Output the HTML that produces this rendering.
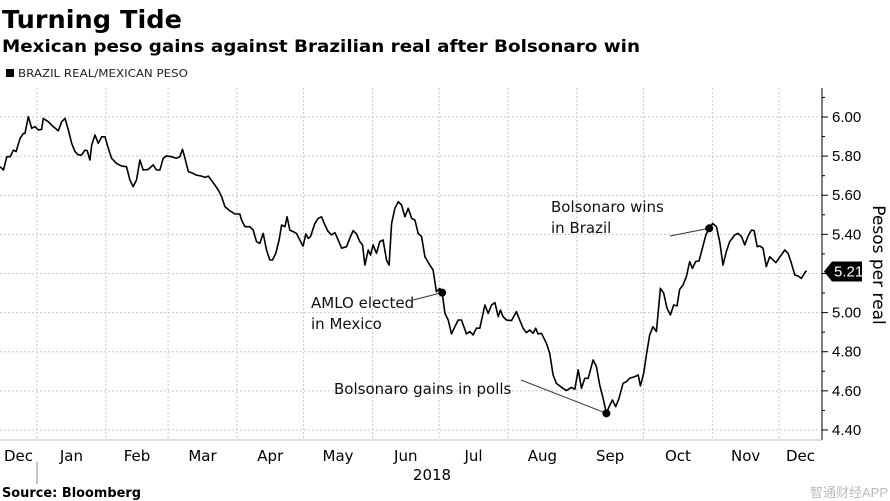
<!DOCTYPE html>
<html><head><meta charset="utf-8">
<style>
body{margin:0;background:#fff;}
svg{display:block;font-family:"Liberation Sans","Noto Sans CJK SC",sans-serif;}
.dj{font-family:"DejaVu Sans","Liberation Sans",sans-serif;}
</style></head>
<body>
<svg id="chart" width="890" height="501" viewBox="0 0 890 501">
<text class="dj" x="2" y="28" font-size="25" font-weight="bold" fill="#000" textLength="180" lengthAdjust="spacingAndGlyphs">Turning Tide</text>
<text class="dj" x="2" y="52" font-size="17" font-weight="bold" fill="#000" textLength="638" lengthAdjust="spacingAndGlyphs">Mexican peso gains against Brazilian real after Bolsonaro win</text>
<rect x="6" y="69" width="8" height="8" fill="#000"/>
<text class="dj" x="18" y="77" font-size="11" fill="#222" textLength="170" lengthAdjust="spacingAndGlyphs">BRAZIL REAL/MEXICAN PESO</text>
<g id="grid"></g>
<g id="axes"></g>
<path id="line" fill="none" stroke="#000" stroke-width="1.6" stroke-linejoin="round"/>
<g id="annots"></g>
<text class="dj" transform="translate(873,265) rotate(90)" text-anchor="middle" font-size="17" fill="#000">Pesos per real</text>
<text class="dj" x="432" y="480" text-anchor="middle" font-size="15" fill="#000">2018</text>
<line x1="37" y1="462" x2="37" y2="484" stroke="#888" stroke-width="1"/>
<text class="dj" x="2" y="497" font-size="13" font-weight="bold" fill="#000" textLength="139" lengthAdjust="spacingAndGlyphs">Source: Bloomberg</text>
<text x="888" y="497" text-anchor="end" font-size="13" fill="#bbb">智通财经APP</text>
</svg>
<script>
// day offsets from 2018-01-01
const days=[-16.6,-15.1,-13.6,-12.1,-10.6,-9.4,-7.6,-6.1,-5.4,-3.9,-2.4,-0.9,0.6,2.1,2.8,5.1,7.3,9.6,11.1,12.6,14.1,15.6,17.1,18.6,20.1,21.6,22.6,23.8,24.6,26.1,27.6,29.1,30.6,32.1,33.6,35.8,38.1,40.3,41.8,43.3,44.8,46.3,47.8,50.1,52.3,53.8,55.3,56.8,58.3,60.6,62.8,64.3,65.5,66.6,68.1,69.6,71.8,74.1,75.6,77.1,79.3,81.6,83.1,84.6,86.8,89.1,91.3,92.1,93.6,95.8,97.3,98.8,100.3,101.8,103.3,104.8,106.0,107.5,109.0,110.1,111.6,112.6,113.8,115.3,116.8,118.3,119.8,121.0,122.1,123.1,125.1,126.6,128.1,129.6,131.1,132.6,134.1,135.6,137.1,139.3,140.8,142.3,143.8,145.3,146.5,147.6,149.1,150.1,151.3,152.8,154.3,155.8,157.3,158.5,159.6,161.1,162.6,164.1,165.6,167.1,168.6,170.1,171.6,173.1,174.6,176.8,178.3,179.8,181.3,182.4,183.6,185.1,186.6,188.1,189.6,191.1,193.3,194.8,196.3,197.8,199.3,201.6,203.1,204.6,206.1,207.6,208.6,209.8,211.3,213.6,215.8,217.3,218.8,220.3,221.8,223.3,224.5,225.5,227.1,229.3,230.8,232.3,233.8,236.1,238.3,240.6,242.1,243.6,245.1,246.6,248.1,250.3,251.8,253.3,254.8,256.3,257.5,259.0,260.5,262.0,263.8,265.3,266.8,269.1,270.6,271.6,273.1,274.3,275.8,277.3,278.8,280.6,282.1,283.6,285.1,286.6,288.1,289.3,290.8,292.3,293.8,295.0,296.5,298.0,299.5,301.1,302.6,304.1,305.8,307.3,308.8,310.3,311.8,314.1,315.6,317.1,318.6,320.1,321.6,322.8,324.2,325.3,326.8,328.3,329.8,332.6,334.3,336.6,338.1,339.6,341.1,342.6,344.1,345.6,346.4];
const rates=[5.746,5.729,5.797,5.797,5.831,5.823,5.891,5.916,5.916,6.002,5.942,5.951,5.934,5.937,5.993,5.976,5.951,5.930,5.976,5.993,5.934,5.865,5.823,5.806,5.806,5.831,5.828,5.780,5.857,5.908,5.865,5.899,5.899,5.840,5.789,5.763,5.749,5.746,5.678,5.644,5.678,5.780,5.729,5.732,5.755,5.729,5.729,5.789,5.801,5.797,5.789,5.797,5.835,5.789,5.721,5.715,5.703,5.698,5.691,5.698,5.664,5.627,5.593,5.542,5.521,5.504,5.504,5.473,5.439,5.439,5.422,5.363,5.354,5.405,5.320,5.269,5.269,5.303,5.371,5.448,5.439,5.490,5.422,5.414,5.405,5.371,5.340,5.402,5.380,5.388,5.456,5.482,5.490,5.448,5.414,5.397,5.409,5.371,5.329,5.337,5.380,5.419,5.402,5.363,5.346,5.243,5.320,5.294,5.346,5.303,5.363,5.371,5.269,5.243,5.456,5.533,5.567,5.550,5.490,5.533,5.482,5.473,5.405,5.388,5.286,5.243,5.218,5.107,5.124,5.102,4.996,4.962,4.891,4.928,4.962,4.962,4.891,4.903,4.886,4.920,4.920,5.039,4.996,5.039,5.051,4.979,5.013,4.979,4.962,4.959,5.005,4.962,4.920,4.898,4.911,4.894,4.920,4.891,4.894,4.843,4.792,4.681,4.638,4.618,4.601,4.618,4.608,4.707,4.613,4.664,4.664,4.758,4.724,4.630,4.562,4.485,4.519,4.553,4.519,4.562,4.638,4.647,4.664,4.673,4.681,4.625,4.690,4.783,4.886,4.928,4.903,5.124,5.099,5.022,4.988,5.039,5.034,5.119,5.141,5.184,5.261,5.226,5.261,5.264,5.329,5.397,5.431,5.456,5.439,5.363,5.243,5.312,5.363,5.397,5.405,5.388,5.346,5.392,5.422,5.419,5.337,5.341,5.329,5.235,5.286,5.255,5.283,5.320,5.303,5.252,5.192,5.187,5.175,5.204,5.214];
const monthLabels=["Dec","Jan","Feb","Mar","Apr","May","Jun","Jul","Aug","Sep","Oct","Nov","Dec"];
const monthStarts=[-31,0,31,59,90,120,151,181,212,243,273,304,334,365];
const yTicks=[4.40,4.60,4.80,5.00,5.20,5.40,5.60,5.80,6.00];
const lastValue=5.21;
const annotationLabels=[["AMLO elected","in Mexico"],["Bolsonaro gains in polls"],["Bolsonaro wins","in Brazil"]];
const annotationDays=[182.4,256.3,302.6];
const annotationRates=[5.102,4.485,5.431];

const NS="http://www.w3.org/2000/svg";
const X0=37, PXD=742/334, AXR=822, TOP=88, BOT=440;
function xs(d){return X0+d*PXD;}
function ys(v){return 117+(6-v)*195.6;}
function mk(tag,attrs,parent){const e=document.createElementNS(NS,tag);for(const k in attrs)e.setAttribute(k,attrs[k]);parent.appendChild(e);return e;}
const grid=document.getElementById('grid'), axes=document.getElementById('axes');
yTicks.forEach(v=>{
  const l=mk('line',{x1:0,x2:AXR,y1:ys(v),y2:ys(v),stroke:'#c8c8c8','stroke-dasharray':'2,2'},grid);
  
  
  const t=mk('line',{x1:AXR,x2:AXR+6,y1:ys(v),y2:ys(v),stroke:'#000'},axes);
  
  
  const m=mk('line',{x1:AXR,x2:AXR+3,y1:ys(v+0.1),y2:ys(v+0.1),stroke:'#000'},axes);
  
  
  const tx=mk('text',{x:AXR+10,y:ys(v)+5,'font-size':15,fill:'#000'},axes);
  tx.textContent=v.toFixed(2);
  
  
});
for(let i=1;i<monthStarts.length-1;i++){
  const x=xs(monthStarts[i]);
  const l=mk('line',{x1:x,x2:x,y1:TOP,y2:BOT,stroke:'#c8c8c8','stroke-dasharray':'2,2'},grid);
  
  
}
monthLabels.forEach((m,i)=>{
  let a=Math.max(xs(monthStarts[i]),0), b=Math.min(xs(monthStarts[i+1]),AXR);
  const t=mk('text',{x:(a+b)/2,y:461,'text-anchor':'middle','font-size':15,fill:'#000',class:'dj'},axes);
  t.textContent=m;
  
  
});
const al=mk('line',{x1:AXR,x2:AXR,y1:TOP,y2:BOT,stroke:'#000'},axes);


const bl=mk('line',{x1:0,x2:AXR,y1:BOT,y2:BOT,stroke:'#bbb'},axes);


document.getElementById('line').setAttribute('d',days.map((d,i)=>(i?'L':'M')+xs(d).toFixed(1)+','+ys(rates[i]).toFixed(1)).join(''));
const yl=ys(lastValue);
const badge=mk('path',{d:`M${AXR+2},${yl} L${AXR+10},${yl-10} L${AXR+40},${yl-10} L${AXR+40},${yl+10} L${AXR+10},${yl+10} Z`,fill:'#000'},axes);


const bt=mk('text',{x:AXR+12,y:yl+5,'font-size':15,fill:'#fff'},axes);
bt.textContent=lastValue.toFixed(2);


const an=document.getElementById('annots');
const textPos=[[311,308,413,300],[334,394,521,380],[551,212,670,236]];
annotationDays.forEach((d,i)=>{
  const px=xs(d), py=ys(annotationRates[i]);
  const [tx,ty,lx,ly]=textPos[i];
  const l=mk('line',{x1:lx,y1:ly,x2:px,y2:py,stroke:'#333','stroke-width':1},an);
  
  
  const c=mk('circle',{cx:px,cy:py,r:4,fill:'#000'},an);
  
  
  annotationLabels[i].forEach((s,j)=>{
    const t=mk('text',{x:tx,y:ty+j*21,'font-size':15,fill:'#111',class:'dj'},an);
    t.textContent=s;
    
    
  });
});
</script>
</body></html>
